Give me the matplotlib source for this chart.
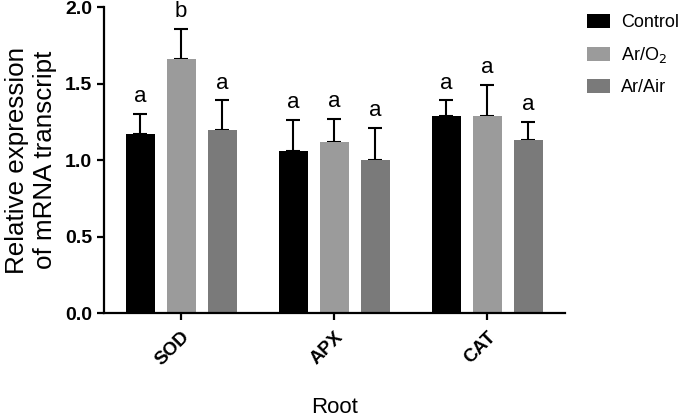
import matplotlib
matplotlib.use("Agg")
import matplotlib.pyplot as plt
import numpy as np

plt.rcParams['font.family'] = ['Liberation Sans', 'DejaVu Sans']

genes = ["SOD", "APX", "CAT"]
series = ["Control", "Ar/O$_2$", "Ar/Air"]
means = {
    "Control": [1.17, 1.06, 1.29],
    "Ar/O$_2$": [1.66, 1.12, 1.29],
    "Ar/Air": [1.20, 1.00, 1.13],
}
errors = {
    "Control": [0.13, 0.20, 0.10],
    "Ar/O$_2$": [0.20, 0.15, 0.20],
    "Ar/Air": [0.19, 0.21, 0.12],
}
letters = {
    "Control": ["a", "a", "a"],
    "Ar/O$_2$": ["b", "a", "a"],
    "Ar/Air": ["a", "a", "a"],
}
colors = ["#000000", "#9b9b9b", "#7a7a7a"]

fig = plt.figure(figsize=(6.85, 4.17), dpi=100)
ax = fig.add_axes([0.152, 0.249, 0.673, 0.734])

x = np.arange(len(genes))
width = 0.19
offsets = [-0.268, 0.0, 0.268]
for s, c, off in zip(series, colors, offsets):
    xs = x + off
    ax.bar(xs, means[s], width=width, color=c, label=s, zorder=2)
    ax.errorbar(xs, means[s], yerr=[np.zeros(len(genes)), errors[s]], fmt='none',
                ecolor='black', elinewidth=1.5, capsize=5, capthick=1.5, zorder=1)
    for xi, m, e, l in zip(xs, means[s], errors[s], letters[s]):
        ax.text(xi, m + e + 0.045, l, ha='center', va='bottom', fontsize=16)

ax.set_xlim(-0.503, 2.51)
ax.set_ylim(0, 2.0)
ax.set_yticks([0, 0.5, 1.0, 1.5, 2.0])
ax.set_yticklabels(["0.0", "0.5", "1.0", "1.5", "2.0"], fontweight='bold', fontsize=14)
ax.set_xticks(x)
ax.set_xticklabels(genes, rotation=45, ha='right', rotation_mode='anchor',
                   fontweight='bold', fontsize=13.5)
ax.spines['top'].set_visible(False)
ax.spines['right'].set_visible(False)
ax.spines['left'].set_linewidth(1.6)
ax.spines['bottom'].set_linewidth(1.6)
ax.tick_params(axis='both', width=1.6, length=5)
ax.tick_params(axis='x', pad=6)
ax.set_ylabel("Relative expression\nof mRNA transcript", fontsize=18.7, labelpad=6)
ax.set_xlabel("Root", fontsize=16, labelpad=20)

leg = fig.legend(loc='upper left', bbox_to_anchor=(587 / 685, 1 - 14 / 417),
                 bbox_transform=fig.transFigure, frameon=False,
                 fontsize=13, handlelength=1.25, handleheight=0.85,
                 labelspacing=0.75, handletextpad=0.65, borderpad=0, borderaxespad=0)

fig.savefig("out.png", dpi=100)
